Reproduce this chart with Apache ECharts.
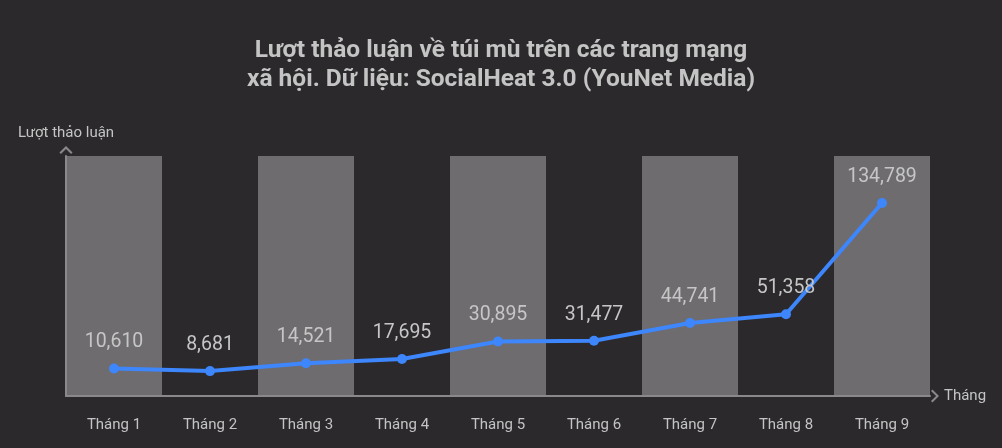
<!DOCTYPE html>
<html>
<head>
<meta charset="utf-8">
<script src="https://cdn.jsdelivr.net/npm/echarts@6/dist/echarts.min.js"></script>
<style>
    html, body { margin: 0; padding: 0; background: #2b292c; }
    #chart { width: 1002px; height: 448px; }
</style>
</head>
<body>
<div id="chart"></div>
<script>
// tháng và số lượt thảo luận
var months = ['Tháng 1', 'Tháng 2', 'Tháng 3', 'Tháng 4', 'Tháng 5', 'Tháng 6', 'Tháng 7', 'Tháng 8', 'Tháng 9'];
var discussions = [10610, 8681, 14521, 17695, 30895, 31477, 44741, 51358, 134789];

var chevron = 'path://M0,9 L9,0 L18,9 L16,11 L9,4 L2,11 Z';

var chart = echarts.init(document.getElementById('chart'));
chart.setOption({
    backgroundColor: '#2b292c',
    textStyle: { fontFamily: 'Roboto' },
    title: {
        text: 'Lượt thảo luận về túi mù trên các trang mạng\nxã hội. Dữ liệu: SocialHeat 3.0 (YouNet Media)',
        left: 'center',
        top: 31,
        textStyle: {
            color: '#c4c4c4',
            fontSize: 24.5,
            fontWeight: 'bold',
            lineHeight: 29,
            fontFamily: 'Roboto'
        }
    },
    grid: { left: 66, right: 72, top: 156, bottom: 52 },
    xAxis: {
        type: 'category',
        data: months,
        name: 'Tháng',
        nameGap: 14,
        nameTextStyle: { color: '#c4c4c4', fontSize: 15, padding: [2, 0, 0, 0] },
        axisLine: {
            onZero: false,
            lineStyle: { color: '#8a888b', width: 2 },
            symbol: ['none', chevron],
            symbolSize: [14, 8],
            symbolOffset: [0, 5]
        },
        axisTick: { show: false },
        axisLabel: { color: '#c4c4c4', fontSize: 15, margin: 22 },
        splitArea: {
            show: true,
            areaStyle: { color: ['#6f6c70', 'rgba(0,0,0,0)'] }
        }
    },
    yAxis: {
        type: 'value',
        min: -10000,
        max: 170000,
        name: 'Lượt thảo luận',
        nameGap: 15,
        nameTextStyle: { color: '#c4c4c4', fontSize: 15, align: 'center' },
        axisLine: {
            show: true,
            lineStyle: { color: '#8a888b', width: 2 },
            symbol: ['none', chevron],
            symbolSize: [14, 8],
            symbolOffset: [0, 6]
        },
        axisTick: { show: false },
        axisLabel: { show: false },
        splitLine: { show: false }
    },
    series: [{
        type: 'line',
        data: discussions,
        symbol: 'circle',
        symbolSize: 10,
        lineStyle: { color: '#3d86fc', width: 4 },
        itemStyle: { color: '#3d86fc' },
        label: {
            show: true,
            position: 'top',
            distance: 11,
            color: '#c6c6c6',
            fontSize: 19.5,
            formatter: function (p) { return p.value.toLocaleString('en-US'); }
        }
    }]
});
</script>
</body>
</html>
